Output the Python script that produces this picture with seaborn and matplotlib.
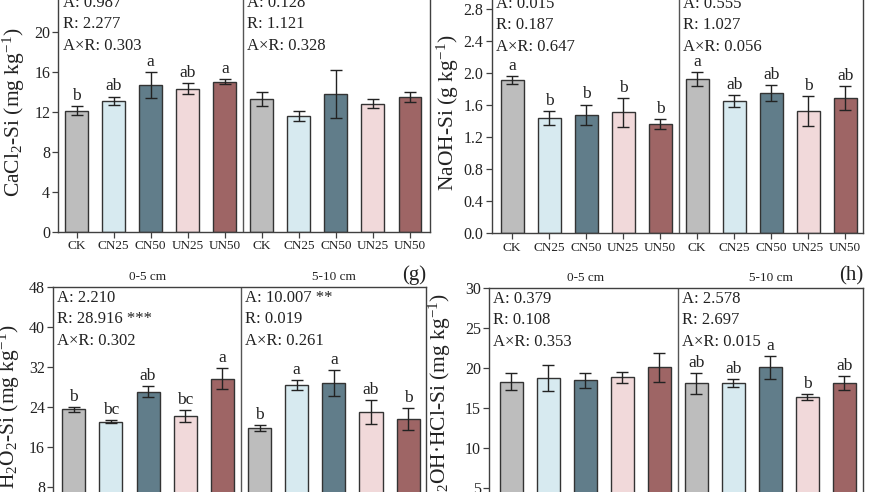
import numpy as np
import pandas as pd
import matplotlib
matplotlib.use("Agg")
import matplotlib.pyplot as plt
import matplotlib.transforms as mtransforms
import seaborn as sns

# ---------------- data ----------------
treatments = ["CK", "CN25", "CN50", "UN25", "UN50"]
depths = ["0-5 cm", "5-10 cm"]
colors = ["#BDBDBD", "#D3ECF4", "#5A8091", "#F5D5D7", "#A85B5B"]

cacl2_mean = [12.15, 13.15, 14.7, 14.35, 15.05, 13.3, 11.6, 13.8, 12.85, 13.5]
cacl2_sd = [0.45, 0.4, 1.3, 0.55, 0.25, 0.7, 0.5, 2.4, 0.43, 0.5]
cacl2_letters = ["b", "ab", "a", "ab", "a", "", "", "", "", ""]
cacl2_stats = [["A: 0.987", "R: 2.277", "A×R: 0.303"],
               ["A: 0.128", "R: 1.121", "A×R: 0.328"]]

naoh_mean = [1.92, 1.44, 1.48, 1.51, 1.37, 1.93, 1.65, 1.75, 1.53, 1.69]
naoh_sd = [0.05, 0.09, 0.13, 0.175, 0.06, 0.09, 0.075, 0.1, 0.19, 0.15]
naoh_letters = ["a", "b", "b", "b", "b", "a", "ab", "ab", "b", "ab"]
naoh_stats = [["A: 0.015", "R: 0.187", "A×R: 0.647"],
              ["A: 0.555", "R: 1.027", "A×R: 0.056"]]

h2o2_mean = [23.6, 21.1, 27.1, 22.3, 29.7, 19.8, 28.4, 28.9, 23.0, 21.7]
h2o2_sd = [0.5, 0.3, 1.1, 1.15, 2.1, 0.6, 1.0, 2.6, 2.4, 2.2]
h2o2_letters = ["b", "bc", "ab", "bc", "a", "b", "a", "a", "ab", "b"]
h2o2_stats = [["A: 2.210", "R: 28.916 ***", "A×R: 0.302"],
              ["A: 10.007 **", "R: 0.019", "A×R: 0.261"]]

nh2oh_mean = [18.3, 18.8, 18.5, 18.9, 20.1, 18.1, 18.15, 20.1, 16.45, 18.15]
nh2oh_sd = [1.05, 1.65, 0.95, 0.7, 1.8, 1.3, 0.5, 1.4, 0.35, 0.85]
nh2oh_letters = ["", "", "", "", "", "ab", "ab", "a", "b", "ab"]
nh2oh_stats = [["A: 0.379", "R: 0.108", "A×R: 0.353"],
               ["A: 2.578", "R: 2.697", "A×R: 0.015"]]

# ---------------- style ----------------
sns.set_theme(style="ticks")
plt.rcParams["font.family"] = ["Liberation Serif", "DejaVu Serif"]
plt.rcParams["mathtext.default"] = "regular"
plt.rcParams["axes.edgecolor"] = "#404040"
plt.rcParams["xtick.color"] = "#404040"
plt.rcParams["ytick.color"] = "#404040"
plt.rcParams["xtick.labelcolor"] = "#222222"
plt.rcParams["ytick.labelcolor"] = "#222222"

W, H = 870, 492
fig = plt.figure(figsize=(W / 100, H / 100), dpi=100)


def px_axes(left, right, top_px, height=240):
    return [left / W, (H - (top_px + height)) / H, (right - left) / W, height / H]


panels = [
    dict(rect=px_axes(58.5, 430, -8), mean=cacl2_mean, sd=cacl2_sd, letters=cacl2_letters,
         stats=cacl2_stats, ylim=(0, 24), yticks=np.arange(0, 21, 4), fmt="{:.0f}",
         xlim=(-0.49, 9.54), ylabel=r"CaCl$_2$-Si (mg kg$^{-1}$)", lab_x=-0.085,
         header=False, tag=None),
    dict(rect=px_axes(491.7, 863, -6.7), mean=naoh_mean, sd=naoh_sd, letters=naoh_letters,
         stats=naoh_stats, ylim=(0, 3.0), yticks=np.arange(0, 2.81, 0.4), fmt="{:.1f}",
         xlim=(-0.55, 9.48), ylabel=r"NaOH-Si (g kg$^{-1}$)", lab_x=-0.084,
         header=False, tag=None),
    dict(rect=px_axes(53.3, 426, 287.3), mean=h2o2_mean, sd=h2o2_sd, letters=h2o2_letters,
         stats=h2o2_stats, ylim=(0, 48), yticks=np.arange(0, 49, 8), fmt="{:.0f}",
         xlim=(-0.55, 9.48), ylabel=r"H$_2$O$_2$-Si (mg kg$^{-1}$)", lab_x=-0.085,
         header=True, tag="(g)"),
    dict(rect=px_axes(489.3, 863, 288.3), mean=nh2oh_mean, sd=nh2oh_sd, letters=nh2oh_letters,
         stats=nh2oh_stats, ylim=(0, 30), yticks=np.arange(0, 31, 5), fmt="{:.0f}",
         xlim=(-0.6, 9.5), ylabel=r"NH$_2$OH·HCl-Si (mg kg$^{-1}$)", lab_x=-0.097,
         header=True, tag="(h)"),
]

keys = [f"{d} {t}" for d in depths for t in treatments]

for p in panels:
    ax = fig.add_axes(p["rect"])
    df = pd.DataFrame({
        "key": keys,
        "treat": treatments * 2,
        "value": p["mean"],
    })
    sns.barplot(data=df, x="key", y="value", hue="treat", order=keys,
                hue_order=treatments, palette=colors, dodge=False, width=0.62,
                edgecolor="#333333", linewidth=1.0, errorbar=None, legend=False, ax=ax)
    xs = np.arange(len(keys))
    ax.errorbar(xs, p["mean"], yerr=p["sd"], fmt="none", ecolor="#222222",
                elinewidth=1.0, capsize=4.5, capthick=1.0, zorder=5)
    for x, m, s, lt in zip(xs, p["mean"], p["sd"], p["letters"]):
        if lt:
            ax.annotate(lt, xy=(x, m + s), xytext=(0, 1.5), textcoords="offset points",
                        ha="center", va="bottom", fontsize=12.5, color="#222222")
    ax.axvline(4.5, color="#555555", lw=1.0, zorder=0.5)
    ax.set_xlim(*p["xlim"])
    ax.set_ylim(*p["ylim"])
    ax.set_yticks(p["yticks"])
    ax.set_yticklabels([p["fmt"].format(v) for v in p["yticks"]], fontsize=11.5)
    ax.set_xticks(xs)
    ax.set_xticklabels(treatments * 2, fontsize=9.5)
    ax.tick_params(axis="both", direction="out", length=4, width=0.9, pad=2)
    ax.set_xlabel("")
    ax.set_ylabel(p["ylabel"], fontsize=15.5, color="#222222")
    ax.yaxis.set_label_coords(p["lab_x"], 0.5)
    for sp in ax.spines.values():
        sp.set_visible(True)
        sp.set_linewidth(1.0)
        sp.set_color("#404040")

    trans = mtransforms.blended_transform_factory(ax.transData, ax.transAxes)
    for i, xstart in enumerate([p["xlim"][0], 4.5]):
        ax.annotate("\n".join(p["stats"][i]), xy=(xstart, 1.0), xycoords=trans,
                    xytext=(3, -2), textcoords="offset points", ha="left", va="top",
                    fontsize=12, linespacing=1.45, color="#222222")
    if p["header"]:
        for i, d in enumerate(depths):
            ax.annotate(d, xy=(2 + 5 * i, 1.0), xycoords=trans, xytext=(0, 3),
                        textcoords="offset points", ha="center", va="bottom",
                        fontsize=9.5, color="#222222")
    if p["tag"]:
        ax.annotate(p["tag"], xy=(1.0, 1.0), xycoords="axes fraction", xytext=(0, 2),
                    textcoords="offset points", ha="right", va="bottom",
                    fontsize=15, color="#222222")

fig.savefig("out.png", dpi=100)
